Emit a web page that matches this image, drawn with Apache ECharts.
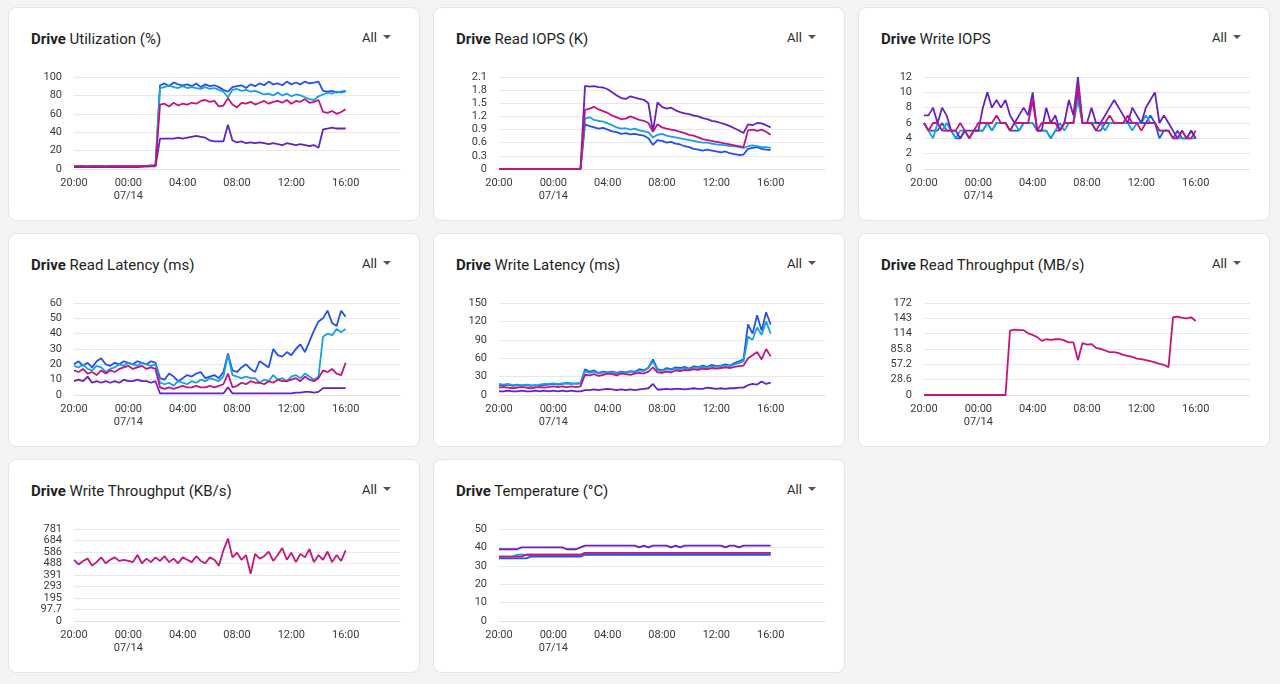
<!DOCTYPE html>
<html><head><meta charset="utf-8">
<script src="https://cdn.jsdelivr.net/npm/echarts@6/dist/echarts.min.js"></script>
<style>
html,body{margin:0;padding:0;background:#f4f4f5;width:1280px;height:684px;overflow:hidden;font-family:Roboto,"Noto Sans",sans-serif;}
.card{position:absolute;width:410px;height:212px;background:#fff;border:1px solid #e4e4e6;border-radius:8px;}
.title{position:absolute;left:22px;top:21px;font-size:15px;line-height:20px;color:#1f1f1f;white-space:nowrap;}
.title b{font-weight:700;}
.sel{position:absolute;left:353px;top:22px;font-size:13px;line-height:16px;color:#2a2a2a;}
.tri{display:inline-block;margin-left:6px;width:0;height:0;border-left:4px solid transparent;border-right:4px solid transparent;border-top:4px solid #555;vertical-align:middle;position:relative;top:-2px;}
.chart{position:absolute;left:0;top:0;width:410px;height:212px;}
</style></head><body>
<div id="root"></div>
<script>
// ---- time grid: samples every 20 minutes from 20:00 (07/13) to 16:00 (07/14), in hours since 20:00
const SAMPLE_STEP_H = 1/3;
const xTickLabels = ['20:00','00:00\n07/14','04:00','08:00','12:00','16:00',''];

// ---- Drive Utilization (%)
const utilBlue = [3,3,3,3,3,3,3,3,3,3,3,3,3,3,3,3,3.5,4,4,
 91,93,90,94,92,91,92,90,93,89,92,90,91,89,86,84,89,90,91,88,92,90,93,91,95,92,93,91,95,92,94,92,95,93,94,95,85,84,85,83,84,85];
const utilCyan = [3,3,3,3,3,3,3,3,3,3,3,3,3,3,3,3,3.5,3.5,4,
 88,89,91,89,88,90,88,89,88,87,89,87,88,86,84,78,86,87,85,86,84,85,83,81,82,80,83,80,82,79,81,80,78,76,75,79,81,83,82,84,83,84];
const utilMagenta = [2.5,3,3,2.5,3,3,3,2.5,3,3,3,3,3,3,3,3,3.5,3.5,3.5,
 70,71,68,72,69,71,70,72,71,74,75,73,74,68,69,77,70,67,72,71,73,70,72,74,71,73,74,72,75,71,74,73,76,72,73,75,62,61,63,60,62,65];
const utilPurple = [2,2,2,2,2,2,2,2,2,2,2,2,2,2,2,2.5,2.5,3,3,
 33,33,33,33,34,33,34,35,36,35,34,31,30,30,30,48,31,29,30,28,29,28,29,28,27,28,27,26,28,27,26,27,26,25,26,23,43,44,45,44,44,44];

// ---- Drive Read IOPS (K)
const riopsBlue = [0,0,0,0,0,0,0,0,0,0,0,0,0,0,0,0,0,0,0,
 1.02,0.98,0.95,0.92,0.94,0.90,0.86,0.84,0.80,0.82,0.79,0.80,0.78,0.76,0.70,0.55,0.66,0.64,0.60,0.62,0.58,0.56,0.52,0.50,0.46,0.44,0.42,0.44,0.42,0.40,0.38,0.40,0.36,0.34,0.32,0.33,0.46,0.48,0.50,0.46,0.44,0.43];
const riopsCyan = [0,0,0,0,0,0,0,0,0,0,0,0,0,0,0,0,0,0,0,
 1.15,1.18,1.12,1.10,1.08,1.04,1.00,0.95,0.92,0.93,0.90,0.92,0.88,0.86,0.84,0.72,0.78,0.80,0.76,0.74,0.72,0.70,0.68,0.66,0.64,0.62,0.60,0.60,0.58,0.56,0.55,0.54,0.52,0.52,0.50,0.48,0.52,0.54,0.52,0.50,0.50,0.48];
const riopsMagenta = [0,0,0,0,0,0,0,0,0,0,0,0,0,0,0,0,0,0,0,
 1.35,1.38,1.42,1.36,1.32,1.28,1.22,1.18,1.14,1.15,1.20,1.16,1.12,1.10,1.05,0.85,1.02,0.95,0.92,0.90,0.88,0.85,0.82,0.78,0.76,0.72,0.68,0.66,0.64,0.62,0.60,0.58,0.56,0.54,0.52,0.50,0.88,0.90,0.87,0.90,0.85,0.78];
const riopsPurple = [0,0,0,0,0,0,0,0,0,0,0,0,0,0,0,0,0,0,0,
 1.90,1.88,1.89,1.87,1.86,1.82,1.75,1.68,1.62,1.60,1.66,1.63,1.60,1.58,1.50,0.85,1.52,1.42,1.38,1.40,1.34,1.30,1.27,1.25,1.22,1.20,1.16,1.14,1.10,1.08,1.05,1.02,0.98,0.93,0.88,0.82,1.02,1.00,1.05,1.04,1.00,0.95];

// ---- Drive Write IOPS
const wiopsBlue = [6,5,5,5,6,5,5,4,4,5,4,5,5,5,6,5,6,6,6,5,5,5,6,6,6,5,5,5,4,5,5,6,6,6,10,6,6,6,5,5,6,6,6,6,6,6,6,6,6,6,7,6,4,5,5,4,5,4,4,5,4];
const wiopsCyan = [6,5,4,6,5,6,5,4,5,5,4,5,5,5,6,5,6,6,6,5,6,5,6,6,6,5,5,5,4,5,6,5,6,6,9,6,6,6,6,6,5,6,6,6,6,6,5,6,6,7,6,6,5,5,5,4,4,4,4,4,4];
const wiopsMagenta = [6,5,6,6,5,5,5,5,6,5,4,5,6,6,6,6,7,6,6,5,6,6,6,6,9,5,6,6,6,6,5,6,6,6,11,6,6,6,5,6,6,7,6,6,6,7,6,6,5,6,6,6,5,5,5,4,4,5,4,4,5];
const wiopsPurple = [7,7,8,6,8,7,5,5,4,5,5,5,5,8,10,8,9,8,9,7,6,7,8,7,10,5,5,8,6,7,5,6,9,7,12,6,6,8,6,6,7,8,9,8,7,6,8,7,6,8,9,10,6,7,6,5,4,5,4,5,4];

// ---- Drive Read Latency (ms)
const rlatBlue = [20,22,19,21,18,22,24,20,19,21,20,22,21,20,22,21,20,22,21,11,10,14,12,9,11,13,12,14,15,11,12,13,11,15,27,16,15,18,20,17,15,22,20,18,30,26,25,28,26,30,33,28,35,42,48,50,55,47,45,55,51];
const rlatCyan = [19,18,20,17,16,19,18,15,17,18,20,19,21,20,19,21,20,19,20,8,7,8,6,9,8,7,9,8,10,9,11,10,9,12,26,13,12,11,12,11,11,8,10,9,13,10,11,9,12,13,11,14,12,10,12,38,40,39,43,41,43];
const rlatMagenta = [16,15,17,14,15,13,16,14,16,15,17,18,19,17,18,19,17,18,17,5,4,5,4,5,6,5,5,6,5,5,6,5,6,7,14,5,6,8,7,9,8,8,7,9,8,10,9,9,10,11,9,12,10,9,11,16,15,17,14,13,21];
const rlatPurple = [9,10,9,12,8,9,8,9,8,9,8,10,9,9,10,9,9,8,9,1,1,1,1,1,1,1,1,1,1,1,1,1,1,1,5,1,1,1,1,1,1,1,1,1,1,1,1,1,1,1.5,1.5,2,2,1.5,2,4.5,4.5,4.5,4.5,4.5,4.5];

// ---- Drive Write Latency (ms)
const wlatBlue = [16,15,17,15,16,15,16,15,16,15,16,17,18,17,18,19,18,19,19,42,38,40,36,38,37,38,36,38,37,39,38,42,40,45,58,42,40,44,42,45,44,46,43,47,45,48,46,49,47,48,50,48,52,55,58,115,100,130,105,135,115];
const wlatCyan = [18,17,18,16,17,16,17,16,15,17,18,18,19,18,19,20,19,18,19,39,36,38,35,37,36,37,35,37,36,38,37,40,39,44,55,40,39,42,41,43,42,44,42,45,44,46,45,47,46,47,48,47,50,52,55,95,90,110,98,120,100];
const wlatMagenta = [12,13,12,11,12,13,12,11,12,13,12,13,14,13,14,13,14,13,14,33,32,34,31,33,35,34,32,35,34,33,35,36,35,38,45,37,36,38,37,40,39,41,40,42,41,43,42,44,43,44,45,44,46,47,48,60,65,70,58,75,63];
const wlatPurple = [6,6,7,6,6,7,6,6,7,6,7,6,7,6,7,6,7,6,6,8,8,9,8,9,10,9,8,9,8,9,8,9,10,11,18,9,9,10,9,10,10,9,10,11,10,10,12,11,10,11,10,11,11,12,12,16,18,17,22,18,20];

// ---- Drive Read Throughput (MB/s)
const rtputMagenta = [0,0,0,0,0,0,0,0,0,0,0,0,0,0,0,0,0,0,0,
 120,122,121,121,115,112,108,101,104,103,104,104,102,98,98,65,97,94,95,88,86,83,80,80,78,75,73,71,68,67,65,63,61,58,56,52,145,146,144,143,145,138];

// ---- Drive Write Throughput (KB/s)
const wtputMagenta = [520,480,510,530,470,500,540,490,520,540,510,520,510,500,560,490,530,500,540,510,550,500,530,490,540,520,500,550,510,490,540,520,470,600,700,540,580,520,560,400,570,530,550,590,510,560,620,520,580,500,570,540,610,500,560,520,590,500,560,510,600];

// ---- Drive Temperature (°C)
const tempBlue = [34,34,34,34,34,34,34,35,35,35,35,35,35,35,35,35,35,35,35,36,36,36,36,36,36,36,36,36,36,36,36,36,36,36,36,36,36,36,36,36,36,36,36,36,36,36,36,36,36,36,36,36,36,36,36,36,36,36,36,36,36];
const tempCyan = [35,35,35,35,36,36,36,36,36,36,36,36,36,36,36,36,36,36,36,37,37,37,37,37,37,37,37,37,37,37,37,37,37,37,37,37,37,37,37,37,37,37,37,37,37,37,37,37,37,37,37,37,37,37,37,37,37,37,37,37,37];
const tempMagenta = [35,35,35,35,35,35,36,36,36,36,36,36,36,36,36,36,36,36,36,37,37,37,37,37,37,37,37,37,37,37,37,37,37,37,37,37,37,37,37,37,37,37,37,37,37,37,37,37,37,37,37,37,37,37,37,37,37,37,37,37,37];
const tempPurple = [39,39,39,39,39,40,40,40,40,40,40,40,40,40,40,39,39,39,40,41,41,41,41,41,41,41,41,41,41,41,41,40,41,40,41,41,41,41,40,41,40,41,41,41,41,41,41,41,41,41,40,41,41,40,41,41,41,41,41,41,41];

const COLORS = {blue:'#2451ee', cyan:'#17a1e3', magenta:'#c5147c', purple:'#6621c2'};

const charts = [
 {rest:'Utilization (%)', max:100, interval:20, s:[['blue',utilBlue],['cyan',utilCyan],['purple',utilPurple],['magenta',utilMagenta]]},
 {rest:'Read IOPS (K)', max:2.1, interval:0.3, s:[['blue',riopsBlue],['cyan',riopsCyan],['purple',riopsPurple],['magenta',riopsMagenta]]},
 {rest:'Write IOPS', max:12, interval:2, s:[['blue',wiopsBlue],['cyan',wiopsCyan],['purple',wiopsPurple],['magenta',wiopsMagenta]]},
 {rest:'Read Latency (ms)', max:60, interval:10, s:[['blue',rlatBlue],['cyan',rlatCyan],['purple',rlatPurple],['magenta',rlatMagenta]]},
 {rest:'Write Latency (ms)', max:150, interval:30, s:[['blue',wlatBlue],['cyan',wlatCyan],['purple',wlatPurple],['magenta',wlatMagenta]]},
 {rest:'Read Throughput (MB/s)', max:171.6, interval:28.6, s:[['magenta',rtputMagenta]]},
 {rest:'Write Throughput (KB/s)', max:781.25, interval:97.65625, s:[['magenta',wtputMagenta]]},
 {rest:'Temperature (°C)', max:50, interval:10, s:[['blue',tempBlue],['cyan',tempCyan],['purple',tempPurple],['magenta',tempMagenta]]}
];

const root = document.getElementById('root');
const colX = [8, 433, 858], rowY = [7, 233, 459];
charts.forEach((c, k) => {
  const card = document.createElement('div');
  card.className = 'card';
  card.style.left = colX[k % 3] + 'px';
  card.style.top = rowY[Math.floor(k / 3)] + 'px';
  card.innerHTML = '<div class="title"><b>Drive</b> ' + c.rest + '</div><div class="sel">All<span class="tri"></span></div><div class="chart"></div>';
  root.appendChild(card);
  const ch = echarts.init(card.querySelector('.chart'), null, {renderer:'canvas'});
  const fmtY = v => v === 0 ? '0' : String(Number(Number(v).toPrecision(3)));
  ch.setOption({
    animation:false,
    grid:{left:65, right:19, top:69, bottom:51},
    xAxis:{type:'value', min:0, max:24, interval:4,
      axisLine:{show:true, lineStyle:{color:'#e2e2e2'}}, axisTick:{show:false}, splitLine:{show:false},
      axisLabel:{color:'#3a3a3a', fontSize:11, lineHeight:13, margin:8, fontFamily:'Roboto',
        formatter:v => xTickLabels[Math.round(v/4)] || ''}},
    yAxis:{type:'value', min:0, max:c.max, interval:c.interval,
      axisLine:{show:false}, axisTick:{show:false},
      splitLine:{lineStyle:{color:'#e8e8e8'}},
      axisLabel:{color:'#3a3a3a', fontSize:11, margin:12, fontFamily:'Roboto', formatter:fmtY}},
    series:c.s.map(([col, arr]) => ({
      type:'line', showSymbol:false, symbol:'none',
      data:arr.map((v, i) => [i * SAMPLE_STEP_H, v]),
      lineStyle:{width:1.8, color:COLORS[col]}, itemStyle:{color:COLORS[col]}
    }))
  });
});
</script>
</body></html>
